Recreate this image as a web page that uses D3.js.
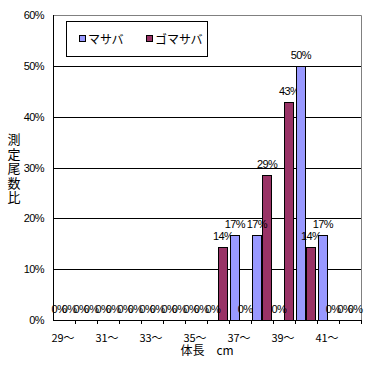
<!DOCTYPE html>
<meta charset="utf-8">
<style>
  body{ margin:0; background:#fff; }
  text{ font-family: "Liberation Sans", Arial, sans-serif; fill:#000; }
  .jp{ font-family: "Noto Sans CJK JP", sans-serif; }
  .grid line{ stroke:#000; stroke-width:1px; }
  .bars rect{ stroke:#000; stroke-width:1px; }
</style>
<svg width="372" height="365"></svg>
<script src="https://d3js.org/d3.v7.min.js"></script>
<script>

  var svg = d3.select("svg");

  // 体長 29〜42 cm
  var categories = ["29","30","31","32","33","34","35","36","37","38","39","40","41","42"];
  var seriesNames = ["マサバ","ゴマサバ"];
  var masaba   = [0,0,0,0,0,0,0,0,16.7,16.7,0,50,16.7,0];
  var gomasaba = [0,0,0,0,0,0,0,14.3,0,28.6,42.9,14.3,0,0];
  var yTicks = [0,10,20,30,40,50,60];
  var colors = ["#9999ff","#993366"];

  var plotL = 53, plotR = 361, plotT = 15, plotB = 320;

  var x = d3.scaleBand().domain(categories).range([plotL, plotR]).padding(0);
  var x1 = d3.scaleBand().domain([0,1]).range([0, x.bandwidth()]).paddingOuter(0.08).paddingInner(0);
  var y = d3.scaleLinear().domain([0,60]).range([plotB, plotT]);

  var rows = categories.map(function(c,i){ return {cat:c, vals:[masaba[i], gomasaba[i]]}; });

  // plot area border (gray top/right)
  svg.append("path")
    .attr("d", "M" + (plotL+0.5) + "," + (plotT+0.5) + "H" + (plotR+0.5) + "V" + (plotB+0.5))
    .attr("fill","none").attr("stroke","#808080");

  // gridlines
  svg.append("g").attr("class","grid")
    .selectAll("line")
    .data(yTicks.filter(function(d){ return d>0 && d<60; }))
    .enter().append("line")
    .attr("x1", plotL).attr("x2", plotR)
    .attr("y1", function(d){ return Math.round(y(d))+0.5; })
    .attr("y2", function(d){ return Math.round(y(d))+0.5; });

  // bars
  var groups = svg.append("g").attr("class","bars")
    .selectAll("g")
    .data(rows)
    .enter().append("g")
    .attr("transform", function(d){ return "translate(" + x(d.cat) + ",0)"; });

  groups.selectAll("rect")
    .data(function(d){ return d.vals.map(function(v,k){ return {k:k, v:v}; }).filter(function(e){ return e.v > 0; }); })
    .enter().append("rect")
    .attr("x", function(d){ return Math.round(x1(d.k))+0.5; })
    .attr("width", function(d){ return Math.round(x1.bandwidth())-1; })
    .attr("y", function(d){ return Math.round(y(d.v))+0.5; })
    .attr("height", function(d){ return Math.round(y(0)) - Math.round(y(d.v)); })
    .attr("fill", function(d){ return colors[d.k]; });

  // data labels
  groups.selectAll("text")
    .data(function(d){ return d.vals.map(function(v,k){ return {k:k, v:v}; }); })
    .enter().append("text")
    .attr("x", function(d){ return x1(d.k) + x1.bandwidth()/2; })
    .attr("y", function(d){ return y(d.v) - 7; })
    .attr("text-anchor","middle")
    .attr("font-size","11px")
    .attr("letter-spacing","-0.6px")
    .text(function(d){ return Math.round(d.v) + "%"; });

  // axes
  svg.append("line").attr("x1", plotL+0.5).attr("x2", plotL+0.5).attr("y1", plotT).attr("y2", plotB+1).attr("stroke","#000");
  svg.append("line").attr("x1", plotL).attr("x2", plotR+1).attr("y1", plotB+0.5).attr("y2", plotB+0.5).attr("stroke","#000");

  // x ticks at category boundaries
  svg.append("g").selectAll("line")
    .data(categories.slice(1).concat(["end"]))
    .enter().append("line")
    .attr("x1", function(d){ return d==="end" ? plotR+0.5 : Math.round(x(d))+0.5; })
    .attr("x2", function(d){ return d==="end" ? plotR+0.5 : Math.round(x(d))+0.5; })
    .attr("y1", plotB).attr("y2", plotB+4)
    .attr("stroke","#000");

  svg.append("g").selectAll("text")
    .data(categories.filter(function(d,i){ return i%2===0; }))
    .enter().append("text")
    .attr("class","jp")
    .attr("x", function(d){ return x(d) + x.bandwidth()/2 - 1; })
    .attr("y", 342)
    .attr("text-anchor","middle")
    .attr("font-size","11px")
    .text(function(d){ return d + "～"; });

  // y tick labels
  svg.append("g").selectAll("text")
    .data(yTicks)
    .enter().append("text")
    .attr("x", 44)
    .attr("y", function(d){ return y(d) + 4; })
    .attr("text-anchor","end")
    .attr("font-size","11px")
    .attr("letter-spacing","-0.6px")
    .text(function(d){ return d + "%"; });

  // axis titles
  svg.append("g").selectAll("text")
    .data("測定尾数比".split(""))
    .enter().append("text")
    .attr("class","jp")
    .attr("x", 14)
    .attr("y", function(d,i){ return 144 + i*14.5; })
    .attr("text-anchor","middle")
    .attr("font-size","13px")
    .text(function(d){ return d; });

  svg.append("text").attr("class","jp")
    .attr("x", (plotL+plotR)/2).attr("y", 355)
    .attr("text-anchor","middle").attr("font-size","12px")
    .text("体長　cm");

  // legend
  var legend = svg.append("g");
  legend.append("rect").attr("x",66.5).attr("y",21.5).attr("width",141).attr("height",35)
    .attr("fill","#fff").attr("stroke","#000");
  var lx = [79, 146];
  seriesNames.forEach(function(name,k){
    legend.append("rect").attr("x",lx[k]+0.5).attr("y",35.5).attr("width",6).attr("height",6)
      .attr("fill",colors[k]).attr("stroke","#000");
    legend.append("text").attr("class","jp")
      .attr("x",lx[k]+9).attr("y",43.5)
      .attr("font-size","12px")
      .text(name);
  });

</script>
